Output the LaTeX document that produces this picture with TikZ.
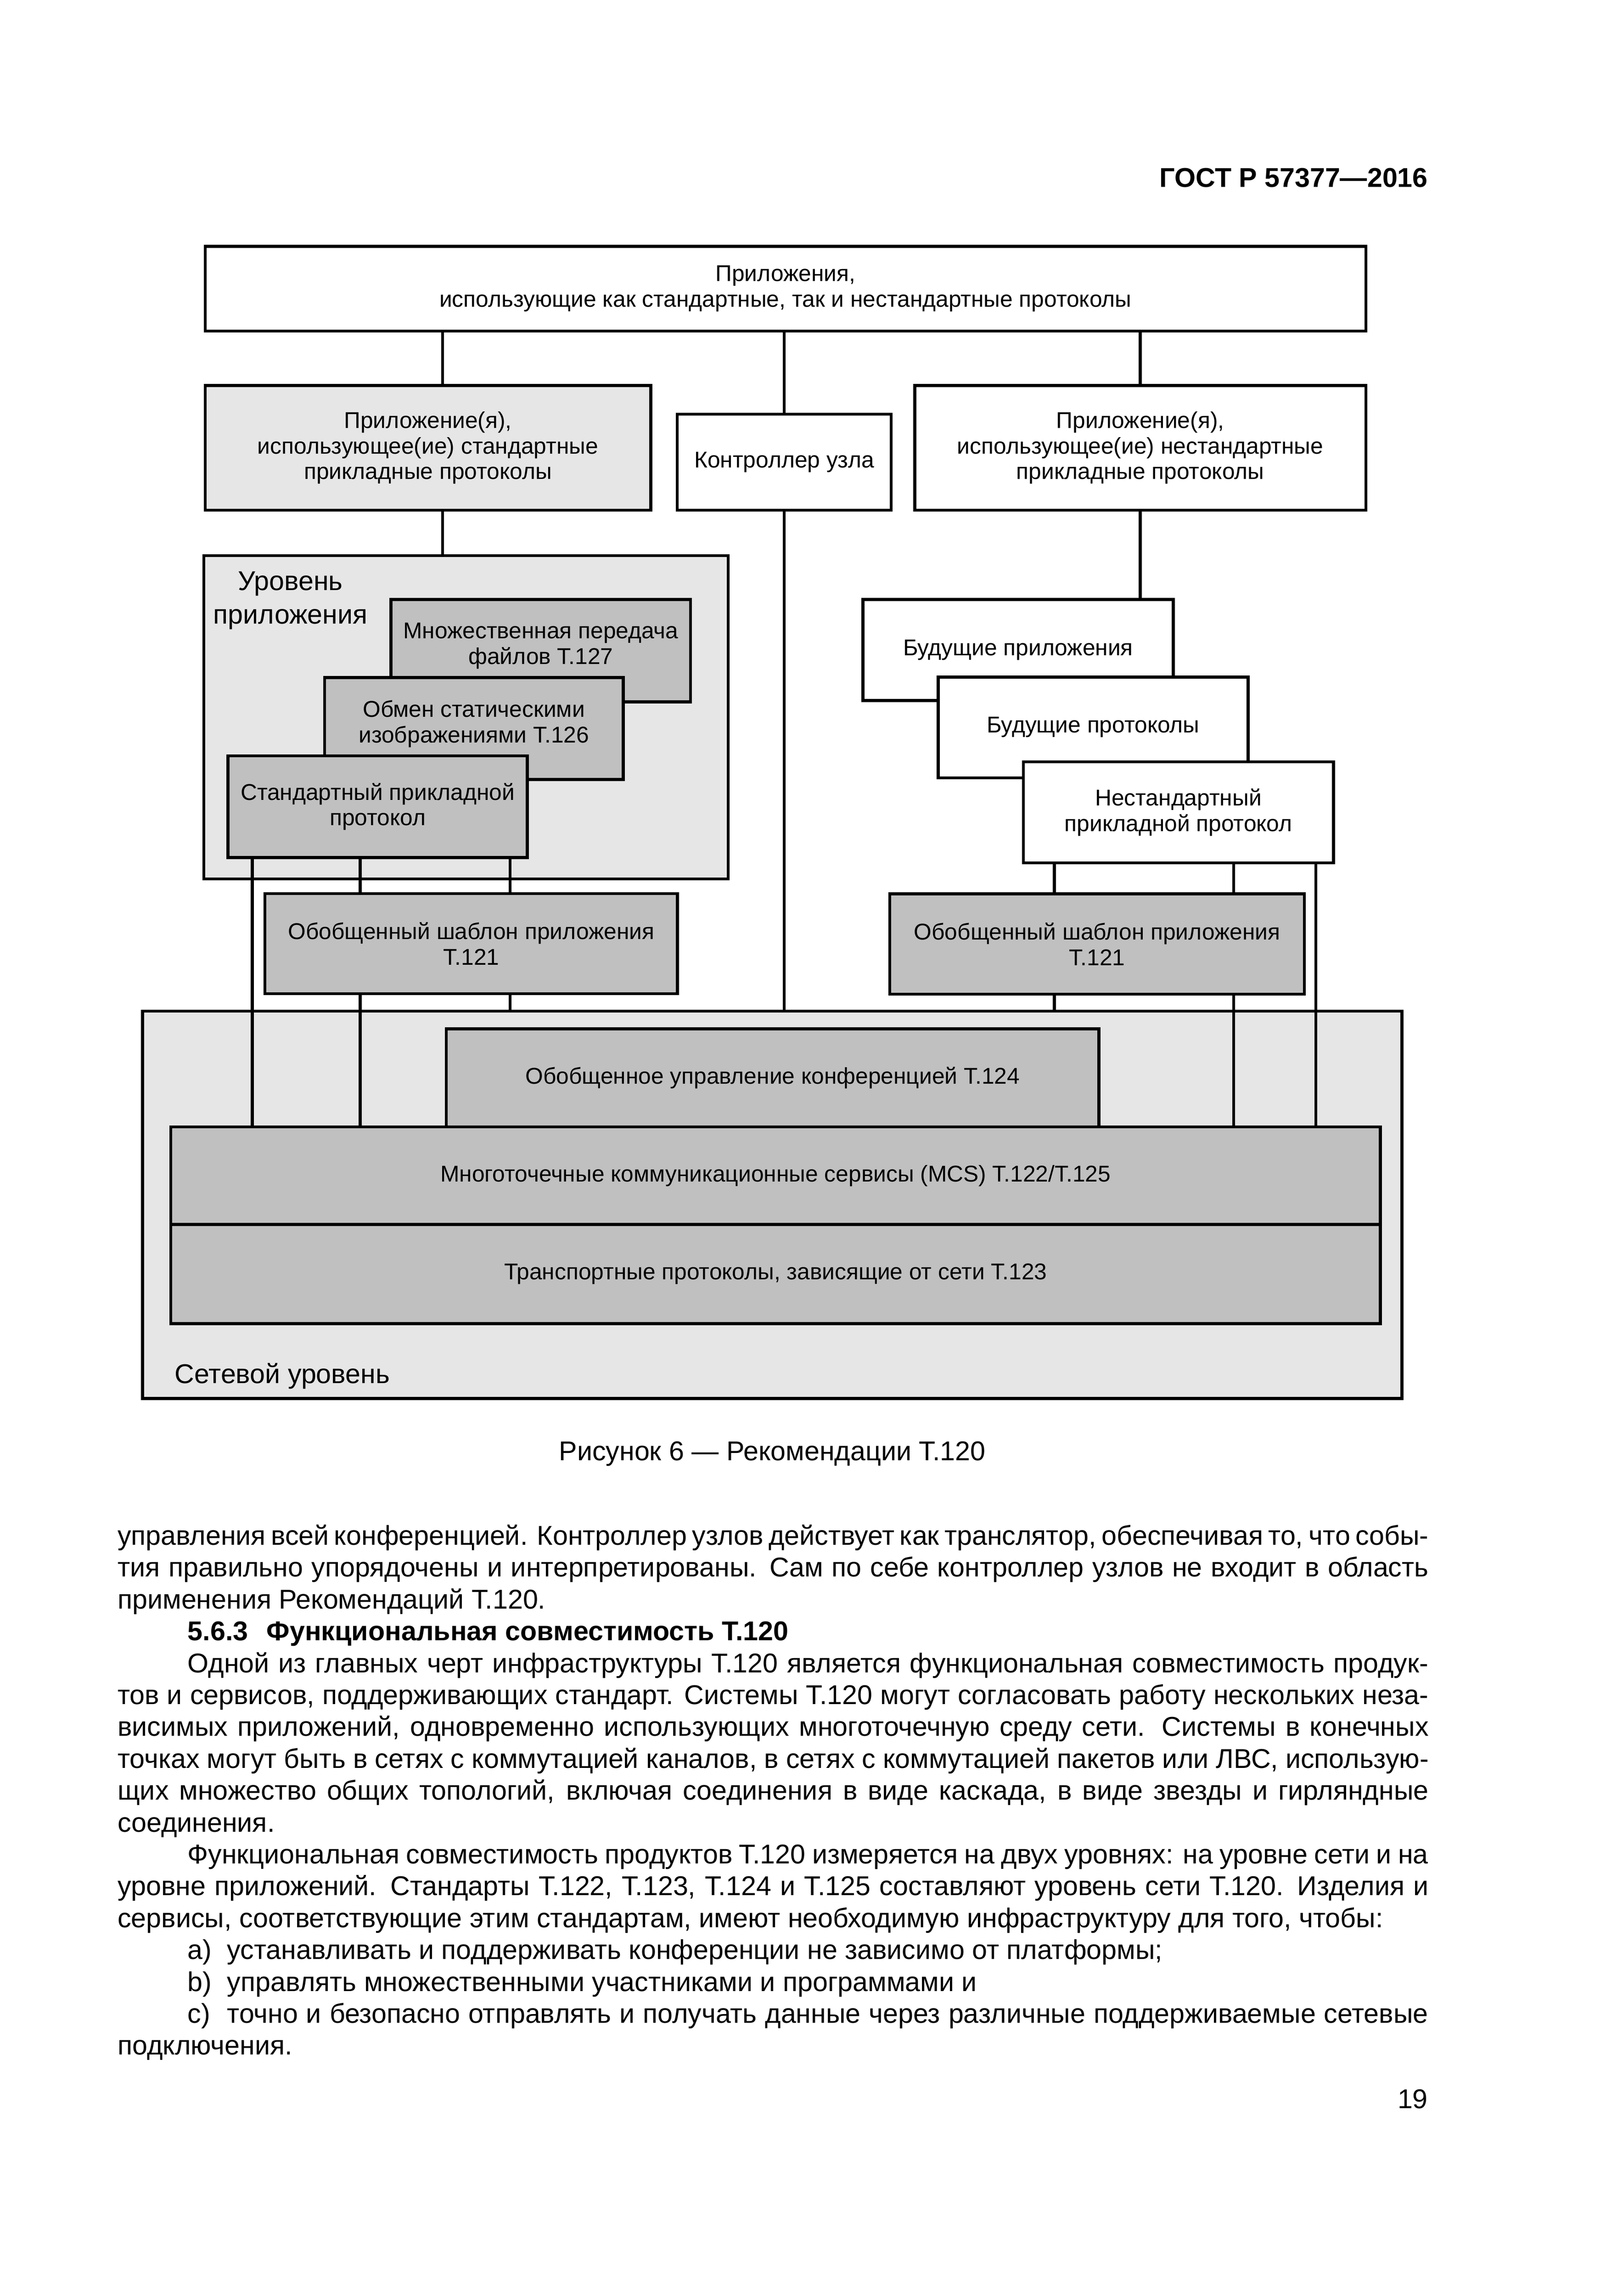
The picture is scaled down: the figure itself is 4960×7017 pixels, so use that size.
\documentclass[tikz,border=0pt]{standalone}
\usepackage{fontspec}
\setmainfont{Liberation Sans}
\usepackage{tikz}
\usetikzlibrary{positioning,fit}

\definecolor{palegray}{HTML}{E6E6E6}
\definecolor{midgray}{HTML}{C0C0C0}

\newcommand{\boxfont}{\fontsize{8.4}{9.4}\selectfont}
\newcommand{\lvlfont}{\fontsize{10}{12.4}\selectfont}
\newcommand{\bodyfont}{\fontsize{10}{12}\selectfont}
\newcommand{\jline}[1]{\hbox to 169.6mm{#1}}

\begin{document}
\begin{tikzpicture}[x=0.042333mm,y=-0.042333mm,
lightbox/.style={draw,line width=1.1pt,inner sep=0pt,fill=palegray},
darkbox/.style={lightbox,fill=midgray},
whitebox/.style={lightbox,fill=white},
boxtext/.style={align=center,font=\boxfont},
txt/.style={label={[boxtext]center:{#1}}},
hightxt/.style={label={[boxtext,yshift=0.6mm]center:{#1}}},
link/.style={line width=1.1pt},
lvl/.style={inner sep=0pt,align=center,font=\lvlfont},
body/.style={anchor=base west,inner sep=0pt,font=\bodyfont}]
\path [use as bounding box,fill=white] (0,0) rectangle (4960,7017);

\node (header) [anchor=base east,inner sep=0pt,font=\bodyfont\bfseries] at (4366,572) {ГОСТ Р 57377—2016};

\node (top) [whitebox,fit={(627,753) (4175,1012)},
    txt={Приложения,\\использующие как стандартные, так и нестандартные протоколы}] {};
\node (stdapps) [lightbox,fit={(627,1178) (1989,1559)},
    txt={Приложение(я),\\использующее(ие) стандартные\\прикладные протоколы}] {};
\node (ctrl) [whitebox,fit={(2070,1266) (2724,1559)},
    txt={Контроллер узла}] {};
\node (nstdapps) [whitebox,fit={(2796,1178) (4175,1559)},
    txt={Приложение(я),\\использующее(ие) нестандартные\\прикладные протоколы}] {};

\node (applvl) [lightbox,fit={(623,1698) (2226,2686)}] {};
\node (applbl) [lvl,anchor=north] at (888,1745) {Уровень\\приложения};
\node (t127) [darkbox,fit={(1195,1832) (2111,2145)},
    hightxt={Множественная передача\\файлов Т.127}] {};
\node (t126) [darkbox,fit={(992,2071) (1905,2382)},
    hightxt={Обмен статическими\\изображениями Т.126}] {};
\node (stdproto) [darkbox,fit={(697,2310) (1612,2621)},
    txt={Стандартный прикладной\\протокол}] {};
\node (gatl) [darkbox,fit={(810,2731) (2071,3037)},
    txt={Обобщенный шаблон приложения\\Т.121}] {};

\node (futapps) [whitebox,fit={(2638,1832) (3586,2141)},
    txt={Будущие приложения}] {};
\node (futproto) [whitebox,fit={(2868,2069) (3815,2377)},
    txt={Будущие протоколы}] {};
\node (nstdproto) [whitebox,fit={(3128,2328) (4076,2637)},
    txt={Нестандартный\\прикладной протокол}] {};
\node (gatr) [darkbox,fit={(2720,2732) (3987,3038)},
    txt={Обобщенный шаблон приложения\\Т.121}] {};

\node (netlvl) [lightbox,fit={(436,3090) (4285,4274)}] {};
\node (netlbl) [lvl,anchor=base west] at (533,4227) {Сетевой уровень};
\node (t124) [darkbox,fit={(1364,3144) (3359,3444)},
    txt={Обобщенное управление конференцией Т.124}] {};
\node (mcs) [darkbox,fit={(522,3444) (4219,3742)},
    txt={Многоточечные коммуникационные сервисы (MCS) Т.122/Т.125}] {};
\node (transp) [darkbox,fit={(522,3742) (4219,4045)},
    txt={Транспортные протоколы, зависящие от сети Т.123}] {};

\coordinate (xl) at (1353,0);
\coordinate (xa) at (771,0);
\coordinate (xb) at (1101,0);
\coordinate (xc) at (1559,0);
\coordinate (xd) at (3223,0);
\coordinate (xe) at (3771,0);
\coordinate (xf) at (4022,0);

\draw [link] (top.south -| xl) -- (stdapps.north -| xl);
\draw [link] (top.south -| ctrl.north) -- (ctrl.north);
\draw [link] (top.south -| nstdapps.north) -- (nstdapps.north);
\draw [link] (ctrl.south) -- (ctrl.south |- netlvl.north);
\draw [link] (stdapps.south -| xl) -- (applvl.north -| xl);
\draw [link] (nstdapps.south) -- (nstdapps.south |- futapps.north);
\draw [link] (stdproto.south -| xa) -- (mcs.north -| xa);
\draw [link] (stdproto.south -| xb) -- (gatl.north -| xb);
\draw [link] (gatl.south -| xb) -- (mcs.north -| xb);
\draw [link] (stdproto.south -| xc) -- (gatl.north -| xc);
\draw [link] (gatl.south -| xc) -- (netlvl.north -| xc);
\draw [link] (nstdproto.south -| xd) -- (gatr.north -| xd);
\draw [link] (gatr.south -| xd) -- (netlvl.north -| xd);
\draw [link] (nstdproto.south -| xe) -- (gatr.north -| xe);
\draw [link] (gatr.south -| xe) -- (mcs.north -| xe);
\draw [link] (nstdproto.south -| xf) -- (mcs.north -| xf);

\node (caption) [below=5.3mm of netlvl,inner sep=0pt,font=\bodyfont] {Рисунок 6 — Рекомендации Т.120};

\node (b1) [body] at (358,4722) {\jline{управления всей конференцией. Контроллер узлов действует как транслятор, обеспечивая то, что собы-}};
\node (b2) [body] at (358,4819) {\jline{тия правильно упорядочены и интерпретированы. Сам по себе контроллер узлов не входит в область}};
\node (b3) [body] at (358,4917) {применения Рекомендаций Т.120.};
\node (b4) [body,font=\bodyfont\bfseries] at (572,5014) {5.6.3\hspace{2.4mm}Функциональная совместимость Т.120};
\node (b5) [body] at (572,5112) {\hbox to 160.5mm{Одной из главных черт инфраструктуры Т.120 является функциональная совместимость продук-}};
\node (b6) [body] at (358,5209) {\jline{тов и сервисов, поддерживающих стандарт. Системы Т.120 могут согласовать работу нескольких неза-}};
\node (b7) [body] at (358,5306) {\jline{висимых приложений, одновременно использующих многоточечную среду сети. Системы в конечных}};
\node (b8) [body] at (358,5404) {\jline{точках могут быть в сетях с коммутацией каналов, в сетях с коммутацией пакетов или ЛВС, использую-}};
\node (b9) [body] at (358,5501) {\jline{щих множество общих топологий, включая соединения в виде каскада, в виде звезды и гирляндные}};
\node (b10) [body] at (358,5599) {соединения.};
\node (b11) [body] at (572,5696) {\hbox to 160.5mm{Функциональная совместимость продуктов Т.120 измеряется на двух уровнях: на уровне сети и на}};
\node (b12) [body] at (358,5793) {\jline{уровне приложений. Стандарты Т.122, Т.123, Т.124 и Т.125 составляют уровень сети Т.120. Изделия и}};
\node (b13) [body] at (358,5891) {сервисы, соответствующие этим стандартам, имеют необходимую инфраструктуру для того, чтобы:};
\node (b14) [body] at (572,5988) {\makebox[5.1mm][l]{a)}устанавливать и поддерживать конференции не зависимо от платформы;};
\node (b15) [body] at (572,6086) {\makebox[5.1mm][l]{b)}управлять множественными участниками и программами и};
\node (b16) [body] at (572,6183) {\hbox to 160.5mm{\makebox[5.1mm][l]{c)}точно и безопасно отправлять и получать данные через различные поддерживаемые сетевые}};
\node (b17) [body] at (358,6280) {подключения.};

\node (pagenum) [anchor=base east,inner sep=0pt,font=\bodyfont] at (4366,6443) {19};
\end{tikzpicture}
\end{document}
